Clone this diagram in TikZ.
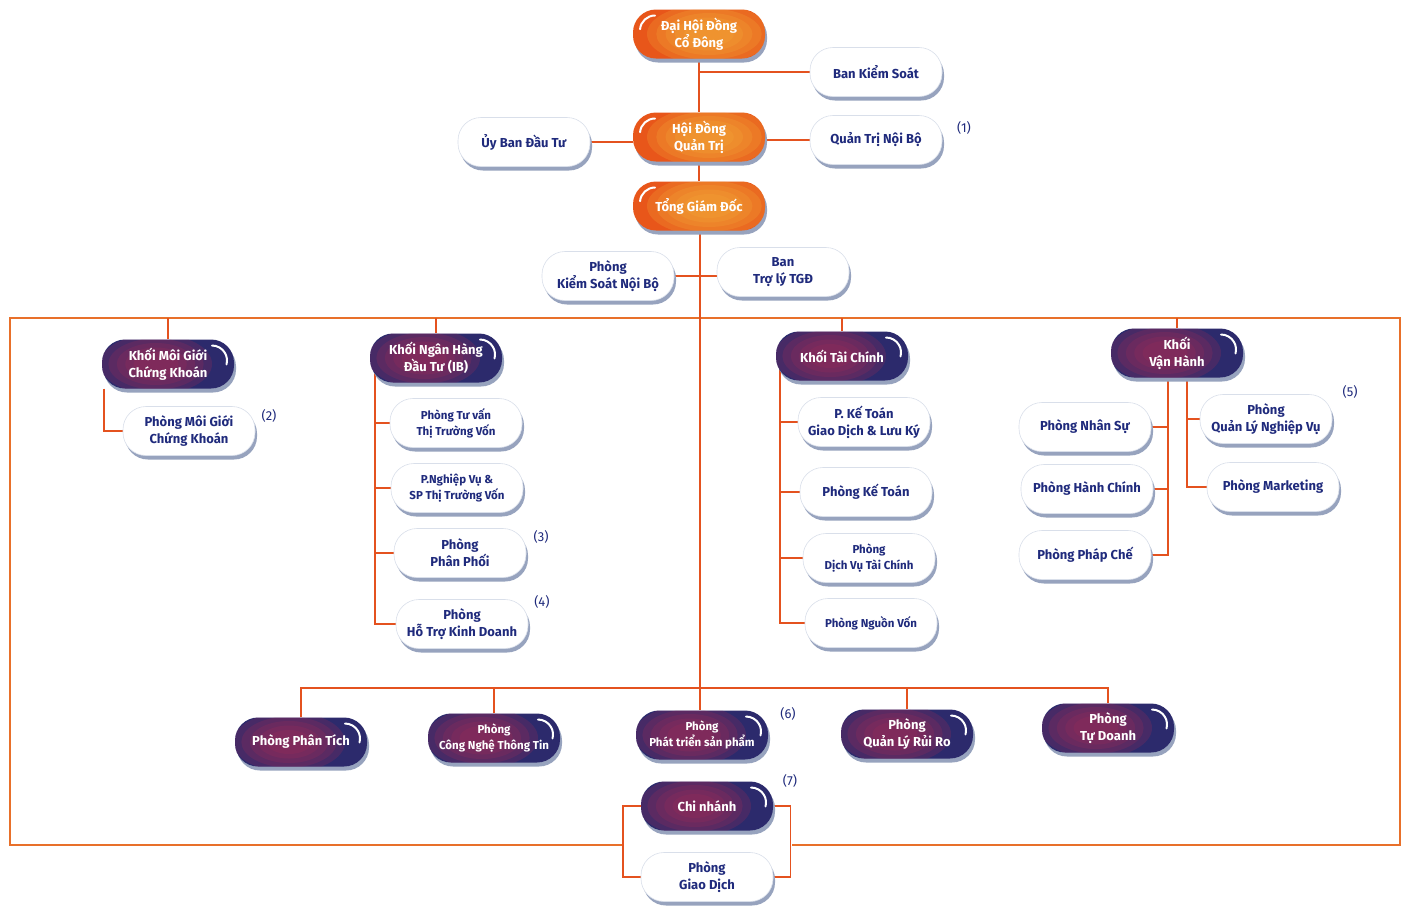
\documentclass[tikz,border=0pt]{standalone}
\usepackage{fontspec}
\setmainfont{Fira Sans}
\usetikzlibrary{calc,shadows,backgrounds}
\definecolor{navy}{HTML}{1F2A7C}
\definecolor{linec}{HTML}{E4521F}
\definecolor{framec}{HTML}{E8702A}
\definecolor{shadowc}{HTML}{97A3BE}
\definecolor{edgec}{HTML}{D9DFEA}
\definecolor{or1}{HTML}{E8561A}
\definecolor{or2}{HTML}{F2A838}
\definecolor{pu1}{HTML}{2C2A6C}
\definecolor{pu2}{HTML}{9A2A58}
\begin{document}
\begin{tikzpicture}[x=1pt,y=-1pt,
  pillbase/.style={rounded corners=23pt, minimum height=49pt, minimum width=132pt,
    align=center, inner sep=2pt, font=\bfseries\fontsize{13}{17}\selectfont},
  smalltext/.style={font=\bfseries\fontsize{11.5}{16}\selectfont},
  shad/.style={drop shadow={shadow xshift=2pt, shadow yshift=-4pt, fill=shadowc, opacity=1}},
  wpill/.style={pillbase, fill=white, draw=edgec, line width=0.6pt, text=navy, shad},
  opill/.style={pillbase, text=white, fill=or1, shad,
    path picture={
      \foreach \r in {1.0,0.85,0.7,0.55,0.4}
        \fill[or2, opacity=0.25] ($(path picture bounding box.center)+(10pt,0pt)$) ellipse[x radius=\r*62pt, y radius=\r*30pt];
      \draw[white, line width=2pt, line cap=round]
      ($(path picture bounding box.north west)+(22pt,-6pt)$) arc[start angle=90, end angle=175, radius=15pt];}},
  ppill/.style={pillbase, text=white, fill=pu1, shad,
    path picture={
      \foreach \r in {1.0,0.85,0.7,0.55,0.4}
        \fill[pu2, opacity=0.25] ($(path picture bounding box.center)+(-12pt,0pt)$) ellipse[x radius=\r*56pt, y radius=\r*30pt];
      \draw[white, line width=2pt, line cap=round]
      ($(path picture bounding box.north east)+(-22pt,-6pt)$) arc[start angle=90, end angle=-15, radius=15pt];}},
  conn/.style={draw=linec, line width=1.4pt},
  framel/.style={draw=framec, line width=1.3pt},
  note/.style={text=navy, font=\fontsize{13}{15}\selectfont, inner sep=1pt}
]
\useasboundingbox (0,0) rectangle (1408,906);

% top level
\node[opill] (dhd) at (699,34) {Đại Hội Đồng\\Cổ Đông};
\node[wpill] (bks) at (876,72) {Ban Kiểm Soát};
\node[opill] (hdqt) at (699,137) {Hội Đồng\\Quản Trị};
\node[wpill] (ubdt) at (524,142) {Ủy Ban Đầu Tư};
\node[wpill] (qtnb) at (876,140) {Quản Trị Nội Bộ};
\node[note] (n1) at (964,128) {(1)};
\node[opill] (tgd) at (699,206) {Tổng Giám Đốc};
\node[wpill] (pksnb) at (608,276) {Phòng\\Kiểm Soát Nội Bộ};
\node[wpill] (btl) at (783,272) {Ban\\Trợ lý TGĐ};

% khoi moi gioi
\node[ppill] (kmg) at (168,364) {Khối Môi Giới\\Chứng Khoán};
\node[wpill] (pmg) at (189,431) {Phòng Môi Giới\\Chứng Khoán};
\node[note] (n2) at (269,416) {(2)};

% khoi ngan hang dau tu
\node[ppill] (kib) at (436,358) {Khối Ngân Hàng\\Đầu Tư (IB)};
\node[wpill,smalltext] (ib1) at (456,423) {Phòng Tư vấn\\Thị Trường Vốn};
\node[wpill,smalltext] (ib2) at (457,488) {P.Nghiệp Vụ \&\\SP Thị Trường Vốn};
\node[wpill] (ib3) at (460,553) {Phòng\\Phân Phối};
\node[wpill] (ib4) at (462,624) {Phòng\\Hỗ Trợ Kinh Doanh};
\node[note] (n3) at (541,537) {(3)};
\node[note] (n4) at (542,602) {(4)};

% khoi tai chinh
\node[ppill] (ktc) at (842,356) {Khối Tài Chính};
\node[wpill] (tc1) at (864,422) {P. Kế Toán\\Giao Dịch \& Lưu Ký};
\node[wpill] (tc2) at (866,492) {Phòng Kế Toán};
\node[wpill,smalltext] (tc3) at (869,558) {Phòng\\Dịch Vụ Tài Chính};
\node[wpill,smalltext] (tc4) at (871,623) {Phòng Nguồn Vốn};

% khoi van hanh
\node[ppill] (kvh) at (1177,353) {Khối\\Vận Hành};
\node[wpill] (vh1) at (1085,427) {Phòng Nhân Sự};
\node[wpill] (vh2) at (1087,489) {Phòng Hành Chính};
\node[wpill] (vh3) at (1085,555) {Phòng Pháp Chế};
\node[wpill] (vh4) at (1266,419) {Phòng\\Quản Lý Nghiệp Vụ};
\node[wpill] (vh5) at (1273,487) {Phòng Marketing};
\node[note] (n5) at (1350,392) {(5)};

% bottom row
\node[ppill] (ppt) at (301,742) {Phòng Phân Tích};
\node[ppill,smalltext] (pcntt) at (494,738) {Phòng\\Công Nghệ Thông Tin};
\node[ppill,smalltext] (ptsp) at (702,735) {Phòng\\Phát triển sản phẩm};
\node[note] (n6) at (788,714) {(6)};
\node[ppill] (pqlrr) at (907,734) {Phòng\\Quản Lý Rủi Ro};
\node[ppill] (ptd) at (1108,728) {Phòng\\Tự Doanh};
\node[ppill] (cn) at (707,806) {Chi nhánh};
\node[note] (n7) at (790,781) {(7)};
\node[wpill] (pgd) at (707,877) {Phòng\\Giao Dịch};

\coordinate (ftop) at (0,318);
\coordinate (bline) at (0,688);
\coordinate (trunk) at (700,0);
\coordinate (ibx) at (375,0);
\coordinate (tcx) at (780,0);
\coordinate (vhl) at (1168,0);
\coordinate (vhr) at (1187,0);

\begin{scope}[on background layer]
\fill[white] (0,0) rectangle (1408,906);
% frame
\draw[framel] (622,845) -- (10,845) -- (10,318) -- (1400,318) -- (1400,845) -- (792,845);
% top chain
\draw[conn] (dhd.south) -- (hdqt.north);
\draw[conn] (dhd.south |- bks.west) -- (bks.west);
\draw[conn] (ubdt.east) -- (ubdt.east -| hdqt.west);
\draw[conn] (hdqt.east |- qtnb.west) -- (qtnb.west);
\draw[conn] (hdqt.south) -- (tgd.north);
\draw[conn] (trunk |- tgd.south) -- (trunk |- ptsp.north);
\draw[conn] (pksnb.east) -- (pksnb.east -| btl.west);
% ticks from frame
\draw[conn] (kmg.north) -- (kmg.north |- ftop);
\draw[conn] (kib.north) -- (kib.north |- ftop);
\draw[conn] (ktc.north) -- (ktc.north |- ftop);
\draw[conn] (kvh.north) -- (kvh.north |- ftop);
% moi gioi
\draw[conn] ([xshift=2pt]kmg.south west) |- (pmg.west);
% IB
\draw[conn] (ibx |- kib.center) -- (ibx |- ib4.west) -- (ib4.west);
\draw[conn] (ibx |- ib1.west) -- (ib1.west);
\draw[conn] (ibx |- ib2.west) -- (ib2.west);
\draw[conn] (ibx |- ib3.west) -- (ib3.west);
% TC
\draw[conn] (tcx |- ktc.center) -- (tcx |- tc4.west) -- (tc4.west);
\draw[conn] (tcx |- tc1.west) -- (tc1.west);
\draw[conn] (tcx |- tc2.west) -- (tc2.west);
\draw[conn] (tcx |- tc3.west) -- (tc3.west);
% VH
\draw[conn] (vhl |- kvh.center) -- (vhl |- vh3.east) -- (vh3.east);
\draw[conn] (vhl |- vh1.east) -- (vh1.east);
\draw[conn] (vhl |- vh2.east) -- (vh2.east);
\draw[conn] (vhr |- kvh.center) -- (vhr |- vh5.west) -- (vh5.west);
\draw[conn] (vhr |- vh4.west) -- (vh4.west);
% bottom row
\draw[conn] (ppt.north) -- (ppt.north |- bline) -- (ptd.north |- bline) -- (ptd.north);
\draw[conn] (pcntt.north) -- (pcntt.north |- bline);
\draw[conn] (pqlrr.north) -- (pqlrr.north |- bline);
% chi nhanh bracket
\draw[conn] (cn.west) -- ++(-18pt,0pt) |- (pgd.west);
\draw[conn] (cn.east) -- ++(17pt,0pt) |- (pgd.east);
\end{scope}
\end{tikzpicture}
\end{document}
